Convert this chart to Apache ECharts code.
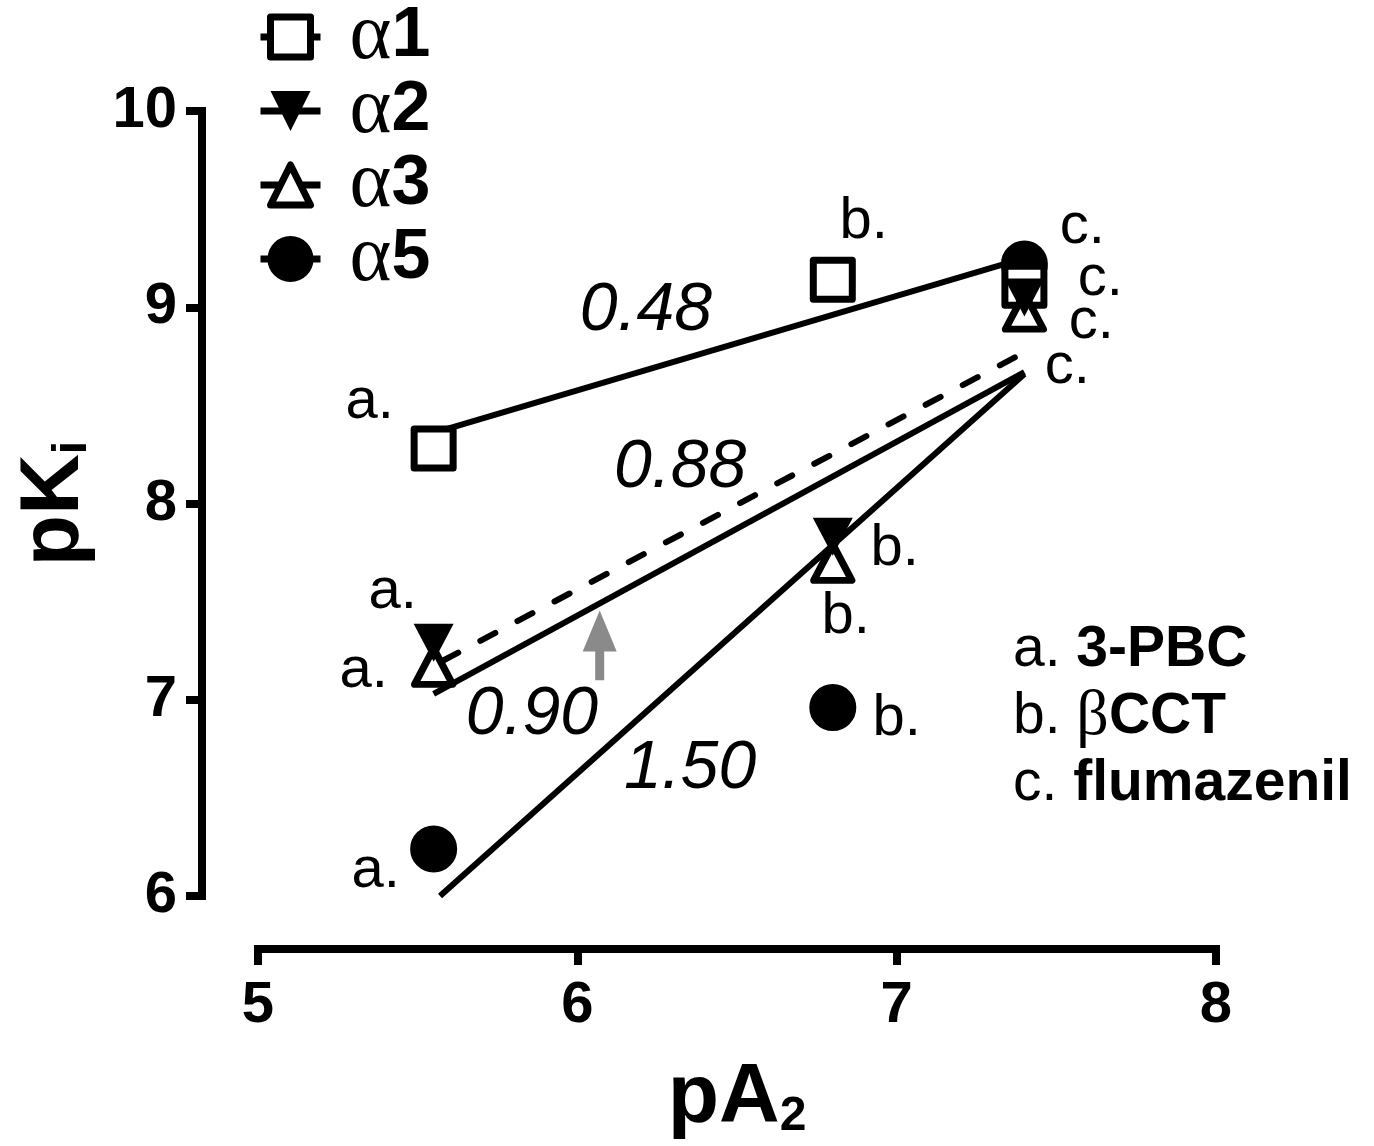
<!DOCTYPE html>
<html>
<head>
<meta charset="utf-8">
<title>pKi vs pA2</title>
<script src="https://cdn.jsdelivr.net/npm/echarts@6/dist/echarts.min.js"></script>
<style>
html, body { margin: 0; padding: 0; background: #fff; }
#main { width: 1374px; height: 1146px; }
</style>
</head>
<body>
<div id="main"></div>
<script>
// a. 3-PBC, b. bCCT, c. flumazenil
var compounds = ['a.', 'b.', 'c.'];
var pA2 = [5.55, 6.80, 7.40];

var pKiA1 = [8.28, 9.14, 9.11];
var pKiA2 = [7.29, 7.83, 9.05];
var pKiA3 = [7.17, 7.70, 8.98];
var pKiA5 = [6.24, 6.96, 9.22];

// fitted lines, both ends
var fitA1 = [[5.55, 8.36], [7.40, 9.25]];
var fitA2 = [[5.58, 7.20], [7.40, 8.77]];
var fitA3 = [[5.55, 7.03], [7.40, 8.67]];
var fitA5 = [[5.57, 6.00], [7.40, 8.66]];

var slopes = ['0.48', '0.88', '0.90', '1.50'];
var slopeAt = [[6.215, 8.978], [6.322, 8.180], [5.858, 6.920], [6.353, 6.646]];

// gray arrow: x, from y, to y
var arrowAt = [[6.07, 7.10, 7.455]];

// where the a./b./c. labels sit, pixels from the symbol
var offA1 = [[-64, -47], [31, -58], [76, -7]];
var offA2 = [[-41, -51], [62, 12], [67, 25]];
var offA3 = [[-70, 5], [13, 55], [43, 56]];
var offA5 = [[-58, 22], [64, 11], [58, -37]];

var FONT = 'Liberation Sans';
var GREEK = 'Liberation Serif';

function makePoints(ys, offs) {
	var out = [];
	for (var i = 0; i < ys.length; i++) {
		out.push({
			value : [pA2[i], ys[i]],
			label : { formatter : compounds[i], offset : offs[i] }
		});
	}
	return out;
}

function pointSeries(name, ys, offs, symbol, size, rotate, fill, border) {
	return {
		name : name,
		type : 'line',
		z : 5,
		symbol : symbol,
		symbolSize : size,
		symbolRotate : rotate,
		showSymbol : true,
		lineStyle : { width : 0, opacity : 0 },
		itemStyle : {
			color : fill,
			borderColor : '#000',
			borderWidth : border,
			borderJoin : 'round',
			opacity : 1
		},
		label : {
			show : true,
			position : 'inside',
			fontFamily : FONT,
			fontSize : 58,
			color : '#000'
		},
		emphasis : { disabled : true },
		data : makePoints(ys, offs)
	};
}

function fitSeries(pts, dashed) {
	return {
		type : 'line',
		z : 2,
		silent : true,
		symbol : 'none',
		lineStyle : {
			color : '#000',
			width : 6,
			type : dashed ? [17, 25] : 'solid',
			cap : dashed ? 'round' : 'butt'
		},
		emphasis : { disabled : true },
		data : pts
	};
}

var slopeData = [];
for (var i = 0; i < slopes.length; i++) {
	slopeData.push({ name : slopes[i], value : slopeAt[i] });
}

function legendItem(name, fill, border) {
	return {
		name : name,
		itemStyle : { color : fill, borderColor : '#000', borderWidth : border, borderJoin : 'round', opacity : 1 }
	};
}

var myChart = echarts.init(document.getElementById('main'));
var option = {
	backgroundColor : '#fff',
	animation : false,
	grid : { left : 258, right : 158, top : 111, bottom : 248 },
	legend : {
		orient : 'vertical',
		left : 257,
		top : -3,
		padding : 0,
		itemWidth : 60,
		itemHeight : 50,
		itemGap : -6,
		selectedMode : false,
		lineStyle : { color : '#000', width : 7, opacity : 1, type : 'solid' },
		data : [
			legendItem('α1', '#fff', 7),
			legendItem('α2', '#000', 0),
			legendItem('α3', '#fff', 7),
			legendItem('α5', '#000', 6)
		],
		formatter : function(name) {
			return '{g|' + name.charAt(0) + '}{d|' + name.slice(1) + '}';
		},
		textStyle : {
			rich : {
				g : { fontFamily : GREEK, fontSize : 80, lineHeight : 50, color : '#000', padding : [0, 0, 0, 24] },
				d : { fontFamily : FONT, fontWeight : 'bold', fontSize : 70, lineHeight : 50, color : '#000' }
			}
		}
	},
	xAxis : {
		type : 'value',
		min : 5,
		max : 8,
		interval : 1,
		offset : 53,
		name : 'pA{s|2}',
		nameLocation : 'middle',
		nameGap : 108,
		nameTextStyle : {
			fontFamily : FONT, fontWeight : 'bold', fontSize : 84, color : '#000', lineHeight : 84,
			rich : { s : { fontFamily : FONT, fontWeight : 'bold', fontSize : 48, lineHeight : 46, verticalAlign : 'bottom', color : '#000' } }
		},
		axisLine : { lineStyle : { color : '#000', width : 8, cap : 'square' } },
		axisTick : { length : 16, lineStyle : { color : '#000', width : 8 } },
		axisLabel : { fontFamily : FONT, fontWeight : 'bold', fontSize : 58, color : '#000', margin : 28 },
		splitLine : { show : false }
	},
	yAxis : {
		type : 'value',
		min : 6,
		max : 10,
		interval : 1,
		offset : 56,
		name : 'pK{s|i}',
		nameLocation : 'middle',
		nameGap : 105,
		nameRotate : 90,
		nameTextStyle : {
			fontFamily : FONT, fontWeight : 'bold', fontSize : 84, color : '#000', lineHeight : 84,
			rich : { s : { fontFamily : FONT, fontWeight : 'bold', fontSize : 48, lineHeight : 46, verticalAlign : 'bottom', color : '#000' } }
		},
		axisLine : { lineStyle : { color : '#000', width : 8, cap : 'square' } },
		axisTick : { length : 16, lineStyle : { color : '#000', width : 8 } },
		axisLabel : { fontFamily : FONT, fontWeight : 'bold', fontSize : 58, color : '#000', margin : 25 },
		splitLine : { show : false }
	},
	graphic : [ {
		type : 'text',
		left : 1013,
		top : 622,
		style : {
			text : '{r|a. }{b|3-PBC}\n{r|b. }{g|β}{b|CCT}\n{r|c. }{b|flumazenil}',
			rich : {
				r : { fontFamily : FONT, fontSize : 57, lineHeight : 67, fill : '#000' },
				g : { fontFamily : GREEK, fontSize : 64, lineHeight : 67, fill : '#000' },
				b : { fontFamily : FONT, fontWeight : 'bold', fontSize : 57, lineHeight : 67, fill : '#000' }
			}
		}
	} ],
	series : [
		fitSeries(fitA1, false),
		fitSeries(fitA2, true),
		fitSeries(fitA3, false),
		fitSeries(fitA5, false),
		// drawing order taken from the overlaps in the figure
		pointSeries('α5', pKiA5, offA5, 'circle', 41, 0, '#000', 6),
		pointSeries('α1', pKiA1, offA1, 'rect', 39, 0, '#fff', 7),
		pointSeries('α3', pKiA3, offA3, 'triangle', [38, 36], 0, '#fff', 7),
		pointSeries('α2', pKiA2, offA2, 'triangle', [40, 38], 180, '#000', 0),
		{
			type : 'scatter',
			symbolSize : 0,
			silent : true,
			itemStyle : { opacity : 1 },
			label : {
				show : true,
				position : 'inside',
				formatter : '{b}',
				fontFamily : FONT,
				fontStyle : 'italic',
				fontSize : 68,
				color : '#000',
				opacity : 1
			},
			data : slopeData
		},
		{
			type : 'custom',
			silent : true,
			z : 3,
			renderItem : function(params, api) {
				var p0 = api.coord([api.value(0), api.value(1)]);
				var p1 = api.coord([api.value(0), api.value(2)]);
				var head = 41, hw = 17, sw = 4.5;
				var x = p0[0];
				var yb = p1[1] + head;
				return {
					type : 'polygon',
					shape : {
						points : [
							[x - sw, p0[1]], [x - sw, yb], [x - hw, yb], [x, p1[1]],
							[x + hw, yb], [x + sw, yb], [x + sw, p0[1]]
						]
					},
					style : { fill : '#8a8a8a' }
				};
			},
			data : arrowAt
		}
	]
};
myChart.setOption(option);
</script>
</body>
</html>
